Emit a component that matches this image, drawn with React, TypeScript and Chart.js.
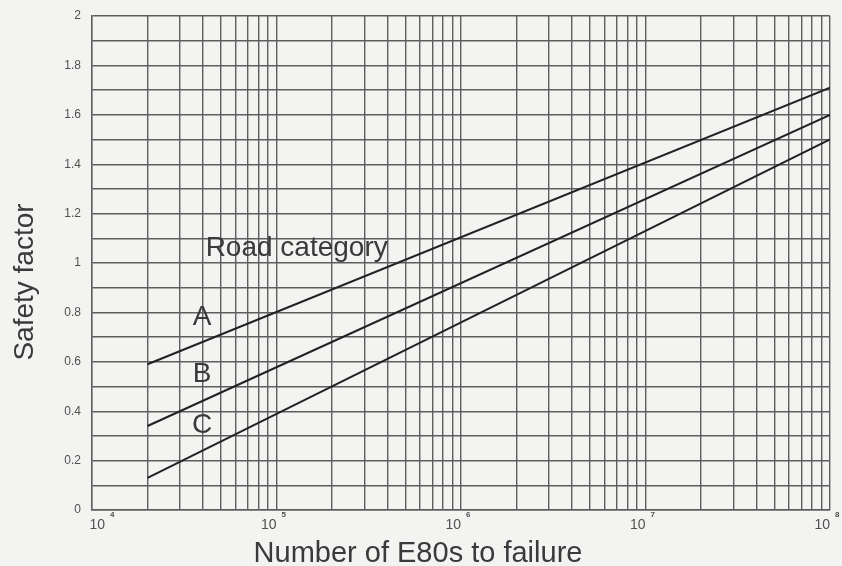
import { useEffect, useRef } from "react";
import { Chart, registerables } from "chart.js";

Chart.register(...registerables);

// ---- data ----
const xDecades = [1e4, 1e5, 1e6, 1e7, 1e8];
const xDecadeExponents = ["4", "5", "6", "7", "8"];
const xGridMultipliers = [1, 2, 3, 4, 5, 6, 7, 8, 9];
const yTickLabels = ["0", "0.2", "0.4", "0.6", "0.8", "1", "1.2", "1.4", "1.6", "1.8", "2"];
const yTickValues = [0, 0.2, 0.4, 0.6, 0.8, 1, 1.2, 1.4, 1.6, 1.8, 2];
const lineX = [2e4, 1e8];
const seriesA = [0.59, 1.71];
const seriesB = [0.34, 1.6];
const seriesC = [0.13, 1.5];
const categoryNames = ["A", "B", "C"];
const categoryLabelX = 3.95e4;
const categoryLabelY = [0.75, 0.52, 0.31];
const legendTitle = "Road category";
const legendTitleX = 4.13e4;
const legendTitleY = 1.03;
const xTitle = "Number of E80s to failure";
const yTitle = "Safety factor";

const gridColor = "#5e5e5e";
const lineColor = "#222222";
const textColor = "#3a3a3a";
const tickColor = "#505050";
const FONT = "'Liberation Sans', Arial, Helvetica, sans-serif";

function buildXGrid(): number[] {
  const vals: number[] = [];
  for (let i = 0; i < xDecades.length - 1; i++) {
    for (const m of xGridMultipliers) vals.push(xDecades[i] * m);
  }
  vals.push(xDecades[xDecades.length - 1]);
  return vals;
}

const decorPlugin = {
  id: "decor",
  beforeDraw(chart: any) {
    const { ctx, width, height } = chart;
    ctx.save();
    ctx.fillStyle = "#f3f3f1";
    ctx.fillRect(0, 0, width, height);
    ctx.restore();
  },
  afterDraw(chart: any) {
    const { ctx, chartArea } = chart;
    const xs = chart.scales.x;
    const ys = chart.scales.y;
    ctx.save();
    // y tick labels
    ctx.fillStyle = tickColor;
    ctx.font = `12px ${FONT}`;
    ctx.textAlign = "right";
    ctx.textBaseline = "middle";
    yTickValues.forEach((v, i) => {
      ctx.fillText(yTickLabels[i], chartArea.left - 11, ys.getPixelForValue(v));
    });
    // x tick labels: 10 with superscript exponent
    xDecades.forEach((v, i) => {
      const px = xs.getPixelForValue(v) + (i === 0 ? 13 : 0);
      ctx.font = `14px ${FONT}`;
      ctx.textAlign = "right";
      ctx.textBaseline = "alphabetic";
      ctx.fillText("10", px, chartArea.bottom + 19);
      ctx.font = `bold 8px ${FONT}`;
      ctx.textAlign = "left";
      ctx.fillText(xDecadeExponents[i], px + 5, chartArea.bottom + 7);
    });
    // axis titles
    ctx.fillStyle = textColor;
    ctx.font = `29px ${FONT}`;
    ctx.textAlign = "center";
    ctx.textBaseline = "alphabetic";
    ctx.fillText(xTitle, 418, 562);
    ctx.save();
    ctx.font = `28px ${FONT}`;
    ctx.translate(33, 282);
    ctx.rotate(-Math.PI / 2);
    ctx.fillText(yTitle, 0, 0);
    ctx.restore();
    // annotations
    ctx.font = `28px ${FONT}`;
    ctx.textAlign = "left";
    ctx.fillText(legendTitle, xs.getPixelForValue(legendTitleX), ys.getPixelForValue(legendTitleY));
    ctx.textAlign = "center";
    categoryNames.forEach((n, i) => {
      ctx.fillText(n, xs.getPixelForValue(categoryLabelX), ys.getPixelForValue(categoryLabelY[i]));
    });
    ctx.restore();
  },
};

export default function App() {
  const ref = useRef<HTMLCanvasElement | null>(null);
  useEffect(() => {
    if (!ref.current) return;
    const mk = (vals: number[]) => lineX.map((x, i) => ({ x, y: vals[i] }));
    const ds = (label: string, vals: number[]) => ({
      label,
      data: mk(vals),
      borderColor: lineColor,
      borderWidth: 2,
      pointRadius: 0,
      tension: 0,
      fill: false,
    });
    const grid = buildXGrid();
    const chart = new Chart(ref.current, {
      type: "line",
      data: {
        datasets: [ds("A", seriesA), ds("B", seriesB), ds("C", seriesC)],
      },
      options: {
        animation: false,
        responsive: false,
        layout: { padding: { left: 92, right: 12, top: 16, bottom: 56 } },
        plugins: { legend: { display: false }, tooltip: { enabled: false } },
        scales: {
          x: {
            type: "logarithmic",
            min: 1e4,
            max: 1e8,
            afterBuildTicks: (scale: any) => {
              scale.ticks = grid.map((v) => ({ value: v }));
            },
            ticks: { display: false },
            grid: { color: gridColor, lineWidth: 1.4, drawTicks: false },
            border: { display: true, color: gridColor, width: 1.4 },
          },
          y: {
            type: "linear",
            min: 0,
            max: 2,
            ticks: { display: false, stepSize: 0.1 },
            grid: { color: gridColor, lineWidth: 1.4, drawTicks: false },
            border: { display: true, color: gridColor, width: 1.4 },
          },
        },
      },
      plugins: [decorPlugin],
    });
    return () => chart.destroy();
  }, []);
  return (
    <div style={{ position: "fixed", left: 0, top: 0, width: 842, height: 566 }}>
      <canvas ref={ref} width={842} height={566} style={{ display: "block" }} />
    </div>
  );
}
